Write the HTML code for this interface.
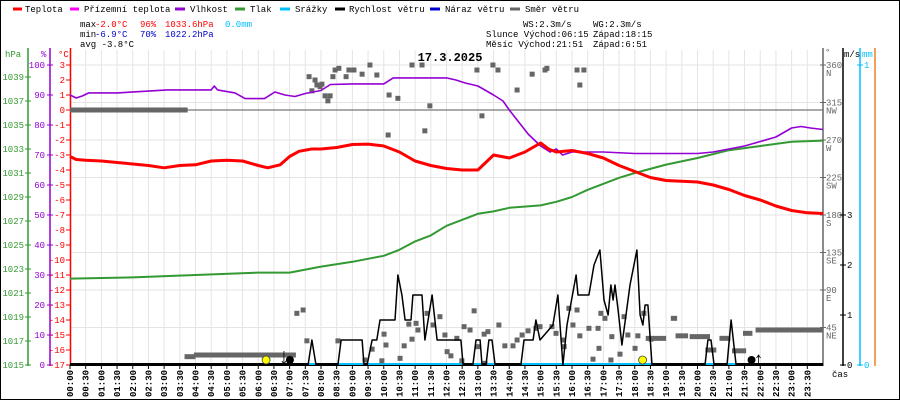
<!DOCTYPE html>
<html><head><meta charset="utf-8"><style>
html,body{margin:0;padding:0;background:#fff}
svg{display:block}
text{font-family:"Liberation Mono",monospace;font-size:9px}
</style></head><body>
<svg id="chart" width="900" height="400" viewBox="0 0 900 400" xmlns="http://www.w3.org/2000/svg">
<rect x="0.5" y="0.5" width="899" height="399" fill="#fff" stroke="#000"/>
<g id="grid"></g>
<g id="legend">
 <g><line x1="13" y1="9" x2="22" y2="9" stroke="#f00" stroke-width="3"/><text x="25" y="12">Teplota</text></g>
 <g><line x1="70" y1="9" x2="79" y2="9" stroke="#f0f" stroke-width="3"/><text x="84" y="12">Přízemní teplota</text></g>
 <g><line x1="175" y1="9" x2="185" y2="9" stroke="#9400d3" stroke-width="3"/><text x="190" y="12">Vlhkost</text></g>
 <g><line x1="235" y1="9" x2="245" y2="9" stroke="#339933" stroke-width="3"/><text x="250" y="12">Tlak</text></g>
 <g><line x1="280" y1="9" x2="290" y2="9" stroke="#00bfff" stroke-width="3"/><text x="295" y="12">Srážky</text></g>
 <g><line x1="335" y1="9" x2="345" y2="9" stroke="#000" stroke-width="3"/><text x="349" y="12">Rychlost větru</text></g>
 <g><line x1="430" y1="9" x2="440" y2="9" stroke="#0000cd" stroke-width="3"/><text x="445" y="12">Náraz větru</text></g>
 <g><line x1="510" y1="9" x2="520" y2="9" stroke="#666" stroke-width="3"/><text x="525" y="12">Směr větru</text></g>
</g>
<g id="stats">
 <text x="80" y="27">max</text><text x="95" y="27" fill="#f00">-2.0°C</text><text x="140" y="27" fill="#f00">96%</text><text x="165" y="27" fill="#f00">1033.6hPa</text><text x="225" y="27" fill="#00bfff">0.0mm</text>
 <text x="80" y="37">min</text><text x="95" y="37" fill="#00c">-6.9°C</text><text x="140" y="37" fill="#00c">70%</text><text x="165" y="37" fill="#00c">1022.2hPa</text>
 <text x="80" y="47">avg -3.8°C</text>
 <text x="523" y="27">WS:2.3m/s</text><text x="593" y="27">WG:2.3m/s</text>
 <text x="486" y="37">Slunce Východ:06:15</text><text x="593" y="37">Západ:18:15</text>
 <text x="486" y="47">Měsíc  Východ:21:51</text><text x="593" y="47">Západ:6:51</text>
</g>
<text x="450" y="61" text-anchor="middle" style="font-size:12px;font-weight:bold">17.3.2025</text>
<g id="axes"></g>
<g id="series"></g>
</svg>
<script>
// ---- data ----
const tempHours = [0,0.2,0.5,1,1.5,2,2.5,3,3.5,4,4.5,5,5.5,6,6.3,6.7,7,7.3,7.7,8,8.5,9,9.5,10,10.5,11,11.5,12,12.5,13,13.5,14,14.5,15,15.25,15.5,16,16.5,17,17.5,18,18.5,19,19.5,20,20.5,21,21.5,22,22.5,23,23.5,24];
const tempValues = [-3.1,-3.3,-3.35,-3.4,-3.5,-3.6,-3.7,-3.85,-3.7,-3.65,-3.4,-3.35,-3.4,-3.7,-3.85,-3.65,-3.1,-2.75,-2.6,-2.6,-2.5,-2.3,-2.27,-2.4,-2.8,-3.4,-3.7,-3.9,-4.0,-4.0,-3.0,-3.2,-2.8,-2.2,-2.6,-2.8,-2.7,-2.9,-3.2,-3.7,-4.1,-4.5,-4.7,-4.75,-4.8,-5.0,-5.3,-5.7,-6.0,-6.4,-6.7,-6.85,-6.9];
const humHours = [0,0.2,0.4,0.6,1.5,2.5,3.1,4.5,4.6,4.7,5.26,5.58,6.2,6.53,6.85,7.17,7.5,8.0,8.3,9,10,10.3,11,12,12.3,12.6,13,13.5,13.8,14,14.3,14.6,15,15.3,15.5,15.7,16,16.5,17,18,19,20,20.5,21,21.5,22,22.5,23,23.3,23.6,24];
const humValues = [90,89,89.7,90.7,90.7,91.3,91.7,91.7,93,91.7,90.7,88.8,88.8,91,90,89.5,90.5,91.5,93.5,93.7,93.7,95.7,95.7,95.7,95,94,93,90,88,85,81,77,73,71,72,70,71,71,71,70.5,70.5,70.5,71,72,73,74.5,76,79,79.5,79,78.5];
const presHours = [0,2,4,6,7,8,9,10,10.5,11,11.5,12,12.5,13,13.5,14,15,15.5,16,16.5,17,17.5,18,19,20,21,22,23,24];
const presValues = [1022.2,1022.3,1022.5,1022.7,1022.7,1023.2,1023.6,1024.1,1024.6,1025.3,1025.8,1026.6,1027.1,1027.6,1027.8,1028.1,1028.3,1028.6,1029.0,1029.6,1030.1,1030.6,1031.0,1031.7,1032.25,1032.9,1033.25,1033.6,1033.7];
const windHours = [0,7.59,7.71,7.84,8.54,8.64,9.31,9.37,9.47,9.63,9.78,9.88,10.36,10.45,10.58,10.68,10.87,10.93,11.22,11.31,11.54,11.70,12.46,12.53,12.84,12.94,13.07,13.13,13.26,13.35,13.45,13.55,14.37,14.47,14.76,14.85,14.98,15.39,15.55,15.71,15.84,16.13,16.19,16.54,16.70,16.89,17.02,17.15,17.24,17.31,17.37,17.47,17.59,17.72,17.85,18.07,18.17,18.26,18.33,18.42,18.55,20.24,20.33,20.43,20.53,20.94,21.07,21.23,24];
const windSpeeds = [0,0,0.5,0,0,0.5,0.5,0,0,0.5,0.5,0.9,0.9,1.8,1.4,0.9,0.9,1.4,1.4,0.5,1.4,0.5,0.5,0,0,0.5,0.5,0,0,0.5,0.5,0,0,0.5,0.5,0.9,0.5,0.8,1.4,0,0.8,1.8,1.4,1.4,2.0,2.3,1.3,1.0,1.6,1.3,1.6,1.1,0.4,1.0,1.6,2.3,1.0,0.8,1.2,1.2,0,0,0.5,0.5,0,0,0.9,0,0];
const dirHours = [7.62,7.81,7.87,7.97,8.03,7.71,8.13,8.29,8.22,8.38,8.45,8.57,8.80,8.89,9.05,9.31,9.56,9.78,10.17,10.45,10.14,10.90,11.22,11.47,11.31,12.97,13.13,13.48,13.64,14.25,14.73,15.14,15.20,16.16,16.25,16.38,
 7.55,8.54,9.40,9.63,9.94,10.01,10.07,10.52,10.65,10.80,10.90,11.03,11.09,11.38,11.57,11.79,11.95,12.02,12.14,12.33,12.49,12.56,12.75,12.88,13.00,13.20,13.23,13.32,13.67,13.86,14.12,14.25,14.41,14.60,14.85,14.98,15.36,15.49,15.71,15.75,15.90,16.03,16.16,16.25,16.54,16.67,16.83,16.86,16.92,17.05,17.24,17.27,17.53,17.66,17.78,18.01,18.10,18.29,18.52,7.23,7.43];
const dirDegrees = [346,342,336,334,337,329,323,323,317,346,354,356,346,354,354,349,360,348,324,320,276,360,360,311,281,354,299,360,354,330,349,354,356,354,336,354,
 29,29,6,19,5,37,24,8,23,49,31,50,42,62,48,58,36,16,11,32,5,46,42,65,22,37,2,40,48,23,23,30,36,41,44,46,46,38,30,22,68,48,66,35,44,7,44,20,62,56,6,34,13,58,36,20,35,62,31,62,66];
const dirHoldStart = [0,3.65,3.95,18.35,19.15,19.3,19.75,20.25,20.7,21.1,21.45,21.85];
const dirHoldEnd   = [3.75,4.0,7.2,19.0,19.35,19.7,20.4,20.6,21.05,21.55,21.75,24];
const dirHoldDeg   = [306,10,12,32,56,35,34,18,32,17,38,42];
const timeLabels = ["00:00","00:30","01:00","01:30","02:00","02:30","03:00","03:30","04:00","04:30","05:00","05:30","06:00","06:30","07:00","07:30","08:00","08:30","09:00","09:30","10:00","10:30","11:00","11:30","12:00","12:30","13:00","13:30","14:00","14:30","15:00","15:30","16:00","16:30","17:00","17:30","18:00","18:30","19:00","19:30","20:00","20:30","21:00","21:30","22:00","22:30","23:00","23:30"];
const hpaTicks = [1015,1017,1019,1021,1023,1025,1027,1029,1031,1033,1035,1037,1039];
const humTicks = [0,10,20,30,40,50,60,70,80,90,100];
const tempTicks = [3,2,1,0,-1,-2,-3,-4,-5,-6,-7,-8,-9,-10,-11,-12,-13,-14,-15,-16,-17];
const dirTicks = [360,315,270,225,180,135,90,45];
const dirNames = ["N","NW","W","SW","S","SE","E","NE"];
const msTicks = [0,1,2,3];

// ---- scales ----
const X = h => 70 + h*31.375;
const Yt = t => 65 + (3-t)*15;
const Yh = p => 65 + (100-p)*3;
const Yp = p => 365 - (p-1015)*12;
const Yd = d => 365 - d/360*300;
const Yw = v => 365 - v*50;
const NS = "http://www.w3.org/2000/svg";
function mk(tag, attrs, parent, txt){
  const e = document.createElementNS(NS, tag);
  for (const k in attrs) e.setAttribute(k, attrs[k]);
  if (txt !== undefined) e.textContent = txt;
  parent.appendChild(e); return e;
}
const grid = document.getElementById('grid');
const axes = document.getElementById('axes');
const series = document.getElementById('series');

// grid
for (let i=0;i<=48;i++){
  const gx = X(i/2);
  const l = mk('line',{x1:gx,y1:50,x2:gx,y2:365,stroke:'#e6e3e3','stroke-width':1},grid);
  
  
}
for (let d=0; d<=360; d+=45){
  const l = mk('line',{x1:70,y1:Yd(d),x2:823,y2:Yd(d),stroke:'#e6e3e3','stroke-width':1},grid);
  
  
}
const fz = mk('line',{x1:70,y1:Yt(0),x2:823,y2:Yt(0),stroke:'#777','stroke-width':1.2},grid);



// left axes
function vaxis(x,color,name){
  const l = mk('line',{x1:x,y1:48,x2:x,y2:366,stroke:color,'stroke-width':1.5},axes);
  
  
}
vaxis(28,'#339933','pressure-axis');
vaxis(50,'#9400d3','humidity-axis');
vaxis(70.5,'#f00','temperature-axis');
vaxis(823,'#666','direction-axis');
vaxis(843,'#000','wind-speed-axis');
vaxis(860,'#00bfff','precip-axis');
vaxis(875,'#f08020','extra-axis');
function label(x,y,txt,color,anchor,name){
  const t = mk('text',{x:x,y:y,fill:color,'text-anchor':anchor},axes,txt);
  
  
}
label(5,57,'hPa','#339933','start','pressure-axis-title');
label(41,57,'%','#9400d3','start','humidity-axis-title');
label(58,57,'°C','#f00','start','temperature-axis-title');
label(825,55,'°','#666','start','direction-axis-title');
label(844,57,'m/s','#000','start','wind-axis-title');
label(862,57,'mm','#00bfff','start','precip-axis-title');
label(832,377,'čas','#000','start','time-axis-title');
hpaTicks.forEach(v=>{
  const y=Yp(v);
  mk('line',{x1:25,y1:y,x2:31,y2:y,stroke:'#339933'},axes);
  label(24,y+3,String(v),'#339933','end','pressure-tick');
});
humTicks.forEach(v=>{
  const y=Yh(v);
  mk('line',{x1:47,y1:y,x2:53,y2:y,stroke:'#9400d3'},axes);
  label(45,y+3,String(v),'#9400d3','end','humidity-tick');
});
tempTicks.forEach(v=>{
  const y=Yt(v);
  mk('line',{x1:66,y1:y,x2:71,y2:y,stroke:'#f00'},axes);
  label(65,y+3,String(v),'#f00','end','temperature-tick');
});
dirTicks.forEach((v,i)=>{
  const y=Yd(v);
  mk('line',{x1:820,y1:y,x2:826,y2:y,stroke:'#666'},axes);
  label(826,y+3,String(v),'#666','start','direction-tick');
  label(826,y+11,dirNames[i],'#666','start','direction-name');
});
msTicks.forEach(v=>{
  const y=Yw(v);
  mk('line',{x1:840,y1:y,x2:846,y2:y,stroke:'#000'},axes);
  label(847,y+3,String(v),'#000','start','wind-speed-tick');
});
[0,1].forEach(v=>{
  const y=365-v*300;
  mk('line',{x1:857,y1:y,x2:863,y2:y,stroke:'#00bfff'},axes);
  label(864,y+3,String(v),'#00bfff','start','precip-tick');
});
timeLabels.forEach((t,i)=>{
  const x=X(i/2);
  mk('line',{x1:x,y1:365,x2:x,y2:369,stroke:'#000'},axes);
  const e = mk('text',{x:0,y:0,transform:`translate(${x+3},397) rotate(-90)`,'font-weight':'bold','font-size':'8.5'},axes,t);
  
  
});

// series
function path(xs,ys,fx,fy,color,w,name){
  let d='';
  xs.forEach((h,i)=>{ d += (i?'L':'M')+X(h).toFixed(1)+' '+fy(ys[i]).toFixed(1); });
  const p = mk('path',{d:d,fill:'none',stroke:color,'stroke-width':w,'stroke-linejoin':'round'},series);
  
  
}
// precipitation (0 mm)
const rain = mk('line',{x1:70,y1:364.5,x2:823,y2:364.5,stroke:'#00bfff','stroke-width':3},series);


// wind direction holds
dirHoldStart.forEach((s,i)=>{
  const r = mk('line',{x1:X(s),y1:Yd(dirHoldDeg[i]),x2:X(dirHoldEnd[i]),y2:Yd(dirHoldDeg[i]),stroke:'#666','stroke-width':5},series);
  
  
});
dirHours.forEach((h,i)=>{
  const r = mk('rect',{x:X(h)-2.5,y:Yd(dirDegrees[i])-2.5,width:5,height:5,fill:'#666'},series);
  
  
});
path(presHours,presValues,X,Yp,'#339933',2,'pressure-line');
path(humHours,humValues,X,Yh,'#9400d3',1.6,'humidity-line');
path(tempHours,tempValues,X,Yt,'#f00',3,'temperature-line');
path(windHours,windSpeeds,X,Yw,'#000',1.5,'wind-speed-line');
const base = mk('line',{x1:70,y1:365.5,x2:823,y2:365.5,stroke:'#000','stroke-width':1},series);


// black zero-wind baseline drawn where speed is 0
windHours.forEach((h,i)=>{
  if(i<windHours.length-1 && windSpeeds[i]===0 && windSpeeds[i+1]===0){
    const l = mk('line',{x1:X(h),y1:364.5,x2:X(windHours[i+1]),y2:364.5,stroke:'#000','stroke-width':3},series);
    
    
  }
});
// sun / moon markers
const sunHours=[6.25,18.25], moonHours=[6.85,21.85];
sunHours.forEach(h=>{
  const c = mk('circle',{cx:X(h),cy:360,r:4,fill:'#ff0',stroke:'#444','stroke-width':0.8},series);
  
  
});
moonHours.forEach((h,i)=>{
  const c = mk('circle',{cx:X(h)+(i===0?5:-4),cy:360,r:4,fill:'#000'},series);
  
  
  const ax = X(h)+(i===0?-1:3);
  const a = mk('path',{d:i===0?`M${ax} 351V364M${ax-2} 361L${ax} 364L${ax+2} 361`:`M${ax} 355V365M${ax-2} 358L${ax} 355L${ax+2} 358`,stroke:'#000','stroke-width':0.8,fill:'none'},series);
  
  
});
</script>
</body></html>
